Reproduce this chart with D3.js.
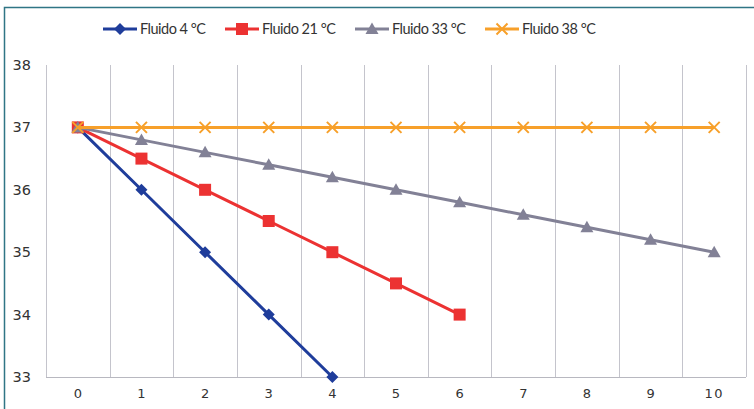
<!DOCTYPE html>
<html><head><meta charset="utf-8">
<script src="https://cdn.jsdelivr.net/npm/d3@7/dist/d3.min.js"></script>
<style>body{margin:0;background:#fff;}svg{display:block;}</style>
</head><body>
<svg id="c" width="754" height="409"></svg>
<script>
const categories = [0,1,2,3,4,5,6,7,8,9,10];
const yTicks = [33,34,35,36,37,38];
const seriesNames = ["Fluido 4 °C","Fluido 21 °C","Fluido 33 °C","Fluido 38 °C"];
const fluido4 = [37,36,35,34,33];
const fluido21 = [37,36.5,36,35.5,35,34.5,34];
const fluido33 = [37,36.8,36.6,36.4,36.2,36,35.8,35.6,35.4,35.2,35];
const fluido38 = [37,37,37,37,37,37,37,37,37,37,37];

const colors = ["#1f3d9b","#ec3232","#828196","#f7a02a"];
const markers = ["diamond","square","triangle","cross"];
const allSeries = [fluido4,fluido21,fluido33,fluido38];

const svg = d3.select("#c");
const L=46,R=746,T=65,B=377;
const x = d3.scaleBand().domain(categories).range([L,R]);
const y = d3.scaleLinear().domain([33,38]).range([B,T]);

// frame
svg.append("path").attr("d","M4.5,409 V7.5 H754").attr("fill","none").attr("stroke","#2f7585").attr("stroke-width",1.5);

// vertical gridlines at band boundaries
const bounds = categories.map(c=>x(c)).concat([R]);
svg.append("g").selectAll("line").data(bounds).join("line")
  .attr("x1",d=>Math.round(d)+0.5).attr("x2",d=>Math.round(d)+0.5)
  .attr("y1",T).attr("y2",B).attr("stroke","#c4c4cc").attr("stroke-width",1);
svg.append("line").attr("x1",L).attr("x2",R).attr("y1",B+0.5).attr("y2",B+0.5).attr("stroke","#b8b8c0");

// y labels
svg.append("g").selectAll("text").data(yTicks).join("text")
  .attr("x",31).attr("y",d=>y(d)).attr("dy","0.35em").attr("text-anchor","end")
  .attr("font-family","DejaVu Sans, Verdana, sans-serif").attr("font-size",14.5).attr("fill","#333")
  .text(d=>d);
// x labels
svg.append("g").selectAll("text").data(categories).join("text")
  .attr("x",d=>x(d)+x.bandwidth()/2).attr("y",398).attr("text-anchor","middle")
  .attr("font-family","DejaVu Sans, Verdana, sans-serif").attr("font-size",13).attr("fill","#333")
  .attr("letter-spacing",d=>d>=10?"1.5px":"0")
  .text(d=>d);

function drawMarker(g,type,cx,cy,color){
  if(type==="diamond"){
    g.append("path").attr("d",`M${cx},${cy-6}L${cx+6},${cy}L${cx},${cy+6}L${cx-6},${cy}Z`).attr("fill",color);
  } else if(type==="square"){
    g.append("rect").attr("x",cx-6).attr("y",cy-6).attr("width",12).attr("height",12).attr("fill",color);
  } else if(type==="triangle"){
    g.append("path").attr("d",`M${cx},${cy-6.5}L${cx+6.5},${cy+5}L${cx-6.5},${cy+5}Z`).attr("fill",color);
  } else {
    g.append("path").attr("d",`M${cx-5.5},${cy-5.5}L${cx+5.5},${cy+5.5}M${cx+5.5},${cy-5.5}L${cx-5.5},${cy+5.5}`)
      .attr("stroke",color).attr("stroke-width",2).attr("fill","none");
  }
}

const cx = i => x(categories[i])+x.bandwidth()/2;
const line = d3.line().x((d,i)=>cx(i)).y(d=>y(d));
allSeries.forEach((s,k)=>{
  const g = svg.append("g");
  g.append("path").datum(s).attr("d",line).attr("fill","none").attr("stroke",colors[k]).attr("stroke-width",3);
  s.forEach((v,i)=>drawMarker(g,markers[k],cx(i),y(v),colors[k]));
});

// legend
const legX = [103,225,355,485];
seriesNames.forEach((n,k)=>{
  const g = svg.append("g");
  g.append("line").attr("x1",legX[k]).attr("x2",legX[k]+34).attr("y1",29).attr("y2",29).attr("stroke",colors[k]).attr("stroke-width",3);
  drawMarker(g,markers[k],legX[k]+17,29,colors[k]);
  g.append("text").attr("x",legX[k]+37).attr("y",29).attr("dy","0.35em")
    .attr("font-family","Lato, 'Open Sans', sans-serif").attr("font-size",14.5).attr("letter-spacing","-0.5px").attr("fill","#333").text(n);
});
</script>
</body></html>
